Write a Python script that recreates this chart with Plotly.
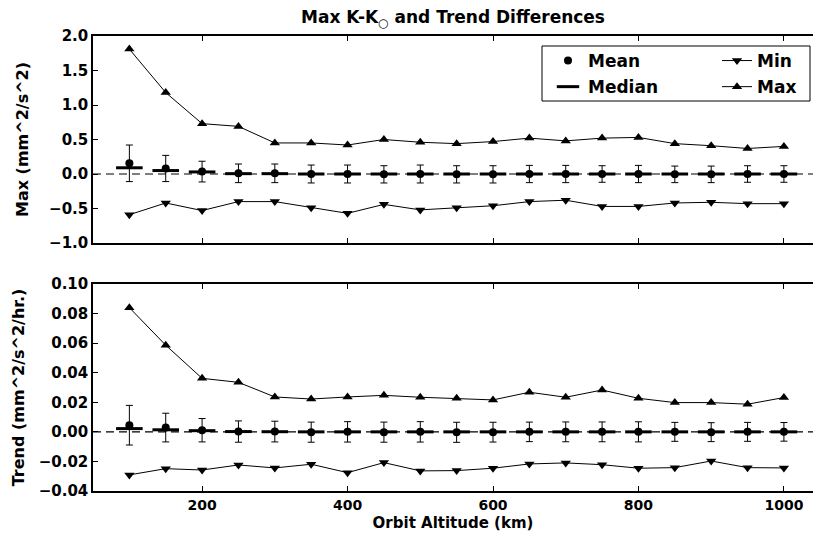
import plotly.graph_objects as go

altitude = [100, 150, 200, 250, 300, 350, 400, 450, 500, 550, 600, 650, 700, 750, 800, 850, 900, 950, 1000]

max_max = [1.81, 1.18, 0.73, 0.69, 0.45, 0.45, 0.42, 0.50, 0.46, 0.44, 0.47, 0.52, 0.48, 0.52, 0.53, 0.44, 0.41, 0.37, 0.40]
max_min = [-0.59, -0.42, -0.53, -0.40, -0.40, -0.49, -0.57, -0.44, -0.52, -0.49, -0.46, -0.40, -0.38, -0.47, -0.47, -0.42, -0.41, -0.43, -0.43]
max_mean = [0.155, 0.08, 0.035, 0.01, 0.01, 0.0, 0.0, -0.005, 0.0, -0.005, -0.005, 0.0, 0.0, 0.0, 0.0, -0.005, -0.005, 0.0, 0.0]
max_median = [0.09, 0.05, 0.03, 0.005, 0.005, 0.0, 0.0, 0.0, 0.0, 0.0, 0.0, 0.0, 0.0, 0.0, 0.0, 0.0, 0.0, 0.0, 0.0]
max_std = [0.265, 0.19, 0.15, 0.135, 0.135, 0.13, 0.13, 0.125, 0.13, 0.125, 0.125, 0.125, 0.125, 0.12, 0.125, 0.12, 0.12, 0.12, 0.12]

trend_max = [0.084, 0.0586, 0.0362, 0.0335, 0.0236, 0.0222, 0.0236, 0.0247, 0.0234, 0.0227, 0.0216, 0.0268, 0.0234, 0.0283, 0.0227, 0.0198, 0.0198, 0.0187, 0.0232]
trend_min = [-0.0291, -0.0249, -0.0258, -0.0224, -0.0244, -0.0219, -0.0276, -0.0208, -0.0264, -0.0262, -0.0246, -0.0217, -0.0210, -0.0222, -0.0246, -0.0242, -0.0197, -0.0242, -0.0244]
trend_mean = [0.0045, 0.0029, 0.0011, 0.0002, 0.0002, -0.0002, 0.0, -0.0002, 0.0, -0.0003, -0.0002, 0.0, 0.0, 0.0, 0.0, 0.0, -0.0002, 0.0, 0.0]
trend_median = [0.0022, 0.0014, 0.0008, 0.0002, 0.0001, 0.0, 0.0, 0.0, 0.0, 0.0, 0.0, 0.0, 0.0, 0.0, 0.0, 0.0, 0.0, 0.0, 0.0]
trend_std = [0.0134, 0.0097, 0.0079, 0.0072, 0.0070, 0.0068, 0.0069, 0.0068, 0.0069, 0.0068, 0.0067, 0.0066, 0.0067, 0.0067, 0.0068, 0.0064, 0.0064, 0.0064, 0.0063]

top_ticks = [2.0, 1.5, 1.0, 0.5, 0.0, -0.5, -1.0]
bottom_ticks = [0.10, 0.08, 0.06, 0.04, 0.02, 0.00, -0.02, -0.04]
x_ticks = [200, 400, 600, 800, 1000]

FONT = "DejaVu Sans"
W, H = 813, 536
ML, MR, MT, MB = 93, 0, 36, 45

fig = go.Figure()


def add_panel(xa, ya, vmax, vmin, vmean, vmed, vstd, show):
    fig.add_trace(go.Scatter(
        x=altitude, y=vmed, mode="markers", name="Median", xaxis=xa, yaxis=ya,
        marker=dict(symbol="line-ew", size=19, color="black", line=dict(color="black", width=3)),
        showlegend=show, legend="legend", legendgroup="median", legendrank=2))
    fig.add_trace(go.Scatter(
        x=altitude, y=vmean, mode="markers", name="Mean", xaxis=xa, yaxis=ya,
        marker=dict(symbol="circle", size=8, color="black"),
        error_y=dict(type="data", array=vstd, visible=True, color="black", thickness=1, width=3.5),
        showlegend=show, legend="legend", legendgroup="mean", legendrank=1))
    fig.add_trace(go.Scatter(
        x=altitude, y=vmin, mode="lines+markers", name="Min", xaxis=xa, yaxis=ya,
        line=dict(color="black", width=1),
        marker=dict(symbol="triangle-down", size=9, color="black"),
        showlegend=show, legend="legend2", legendgroup="min", legendrank=1))
    fig.add_trace(go.Scatter(
        x=altitude, y=vmax, mode="lines+markers", name="Max", xaxis=xa, yaxis=ya,
        line=dict(color="black", width=1),
        marker=dict(symbol="triangle-up", size=9, color="black"),
        showlegend=show, legend="legend2", legendgroup="max", legendrank=2))


add_panel("x", "y", max_max, max_min, max_mean, max_median, max_std, True)
add_panel("x2", "y2", trend_max, trend_min, trend_mean, trend_median, trend_std, False)

ph = H - MT - MB
pw = W - ML - MR


def py(pix):
    return (H - MB - pix) / ph


def px(pix):
    return (pix - ML) / pw


xtickfont = dict(family=FONT, size=14, color="black", weight="bold")
ytickfont = dict(family=FONT, size=15, color="black", weight="bold")
axis_common = dict(showline=True, linecolor="black", linewidth=1.5, ticks="inside", ticklen=5,
                   tickcolor="black", tickwidth=1, showgrid=False, zeroline=False)

fig.update_layout(
    width=W, height=H,
    margin=dict(l=ML, r=MR, t=MT, b=MB),
    plot_bgcolor="white", paper_bgcolor="white",
    font=dict(family=FONT, color="black"),
    title=dict(text="Max K-K<sub>○</sub> and Trend Differences", x=0.5, xref="paper",
               y=1 - 17 / H, yanchor="middle", xanchor="center",
               font=dict(family=FONT, size=17, color="black", weight="bold")),
    xaxis=dict(domain=[0, 1], range=[50, 1040], anchor="y", tickvals=x_ticks,
               showticklabels=False, mirror="ticks", tickfont=xtickfont, **axis_common),
    yaxis=dict(domain=[py(243), 1], range=[-1.0, 2.0], anchor="x", tickvals=top_ticks,
               tickformat=".1f", tickfont=ytickfont,
               title=dict(text="Max (mm^2/s^2)", standoff=17,
                          font=dict(family=FONT, size=16, color="black", weight="bold")),
               **axis_common),
    xaxis2=dict(domain=[0, 1], range=[50, 1040], anchor="y2", tickvals=x_ticks, matches="x",
                mirror="ticks", tickfont=xtickfont,
                title=dict(text="Orbit Altitude (km)", standoff=6,
                           font=dict(family=FONT, size=15, color="black", weight="bold")),
                **axis_common),
    yaxis2=dict(domain=[0, py(284)], range=[-0.04, 0.10], anchor="x2", tickvals=bottom_ticks,
                tickformat=".2f", tickfont=ytickfont,
                title=dict(text="Trend (mm^2/s^2/hr.)", standoff=10,
                           font=dict(family=FONT, size=16, color="black", weight="bold")),
                **axis_common),
    legend=dict(x=px(548), xanchor="left", y=py(43), yanchor="top", orientation="v",
                bgcolor="rgba(0,0,0,0)", borderwidth=0, tracegroupgap=1,
                font=dict(family=FONT, size=17, color="black", weight="bold")),
    legend2=dict(x=px(717), xanchor="left", y=py(43), yanchor="top", orientation="v",
                 bgcolor="rgba(0,0,0,0)", borderwidth=0, tracegroupgap=1,
                 font=dict(family=FONT, size=17, color="black", weight="bold")),
    showlegend=True,
)

# zero reference lines
for yref in ["y", "y2"]:
    fig.add_shape(type="line", xref="paper", x0=0, x1=1, yref=yref, y0=0, y1=0,
                  line=dict(color="black", width=1.2, dash="8px,5px"), layer="below")

# legend frame
fig.add_shape(type="rect", xref="paper", yref="paper", x0=px(542), x1=px(810), y0=py(101), y1=py(46),
              line=dict(color="black", width=1), fillcolor="white", layer="below")

fig.write_html("out.html", config={"displayModeBar": False},
               post_script="document.body.style.margin='0';document.body.style.overflow='hidden';")
